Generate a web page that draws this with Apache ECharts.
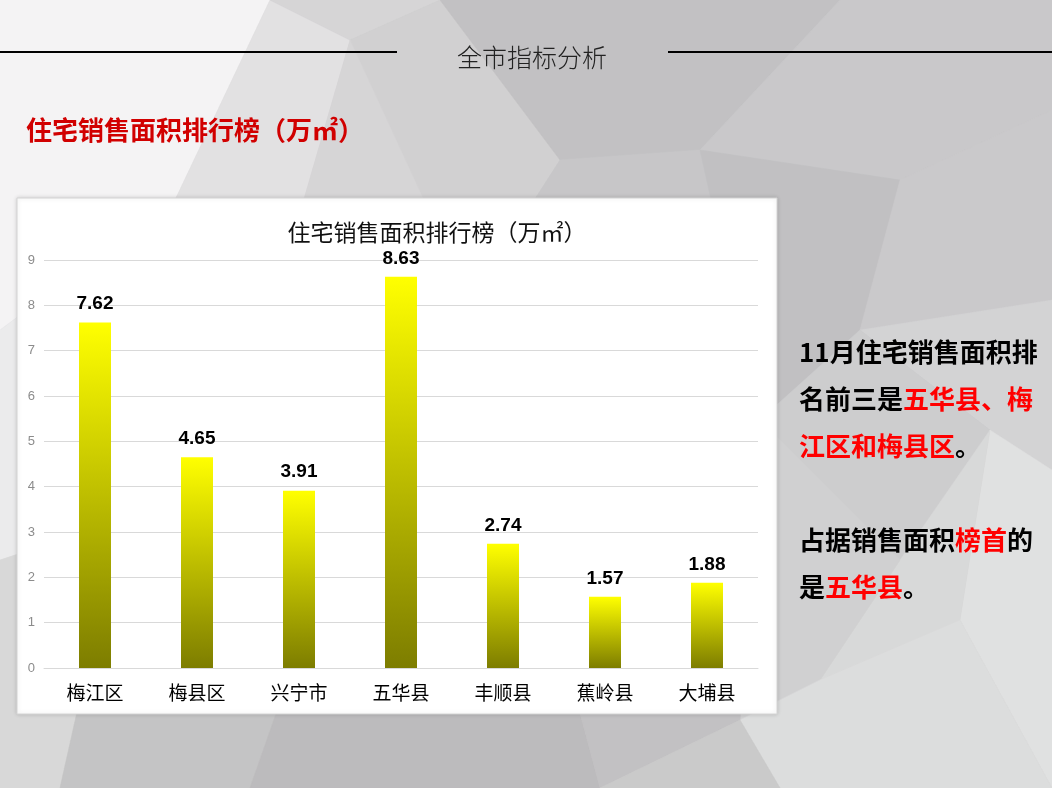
<!DOCTYPE html>
<html>
<head>
<meta charset="utf-8">
<script src="https://cdn.jsdelivr.net/npm/echarts@6/dist/echarts.min.js"></script>
<style>
html,body{margin:0;padding:0;width:1052px;height:788px;overflow:hidden;background:#d0d0d0;}
#main{width:1052px;height:788px;}
</style>
</head>
<body>
<div id="main"></div>
<script>
// ---- data ----
var categories = ['梅江区', '梅县区', '兴宁市', '五华县', '丰顺县', '蕉岭县', '大埔县'];
var areaValues = [7.62, 4.65, 3.91, 8.63, 2.74, 1.57, 1.88];
var yTicks = { min: 0, max: 9, interval: 1 };
var pageTitle = '全市指标分析';
var heading = '住宅销售面积排行榜（万㎡）';
var chartTitle = '住宅销售面积排行榜（万㎡）';

var chart = echarts.init(document.getElementById('main'), null, { renderer: 'canvas' });

var CJK = '"Noto Sans CJK SC", "Noto Sans", sans-serif';

// low-poly background facets (soft greys)
var facets = [
  { pts: [[0,0],[1052,0],[1052,788],[0,788]], c: '#c8c8c9' },
  { pts: [[0,0],[270,0],[175,200],[0,330]], c: '#f4f3f4' },
  { pts: [[0,330],[175,200],[120,520],[0,560]], c: '#ebebec' },
  { pts: [[175,200],[270,0],[350,40],[240,420]], c: '#e2e1e2' },
  { pts: [[270,0],[440,0],[350,40]], c: '#d6d5d6' },
  { pts: [[350,40],[440,0],[620,0],[560,160],[470,300]], c: '#d1d0d1' },
  { pts: [[240,420],[350,40],[470,300],[330,560]], c: '#d6d5d6' },
  { pts: [[440,0],[840,0],[700,150],[560,160]], c: '#c2c1c3' },
  { pts: [[560,160],[700,150],[760,420],[470,300]], c: '#c7c6c8' },
  { pts: [[840,0],[1052,0],[1052,110],[900,180],[700,150]], c: '#c9c8ca' },
  { pts: [[700,150],[900,180],[860,330],[760,420]], c: '#c1c0c2' },
  { pts: [[900,180],[1052,110],[1052,300],[860,330]], c: '#cac9cb' },
  { pts: [[860,330],[1052,300],[1052,470],[990,430]], c: '#d3d3d4' },
  { pts: [[760,420],[860,330],[990,430],[900,560]], c: '#cdcdce' },
  { pts: [[990,430],[1052,470],[1052,788],[960,620]], c: '#e0e1e1' },
  { pts: [[900,560],[990,430],[960,620],[820,680]], c: '#d8d9d9' },
  { pts: [[760,420],[900,560],[820,680],[740,720]], c: '#d0d0d1' },
  { pts: [[740,720],[820,680],[960,620],[1052,788],[780,788]], c: '#dcdddd' },
  { pts: [[0,560],[120,520],[60,788],[0,788]], c: '#d8d8d8' },
  { pts: [[120,520],[330,560],[250,788],[60,788]], c: '#c4c4c5' },
  { pts: [[330,560],[470,300],[600,788],[250,788]], c: '#bcbbbd' },
  { pts: [[470,300],[760,420],[740,720],[600,788]], c: '#c2c1c3' },
  { pts: [[600,788],[740,720],[780,788]], c: '#cacaca' }
];

var graphics = [];
facets.forEach(function (f) {
  graphics.push({
    type: 'polygon', z: -10, silent: true,
    shape: { points: f.pts },
    style: { fill: f.c, stroke: f.c, lineWidth: 0.5 }
  });
});

// header lines and title
graphics.push({ type: 'line', z: -5, shape: { x1: 0, y1: 52, x2: 397, y2: 52 }, style: { stroke: '#000', lineWidth: 2 } });
graphics.push({ type: 'line', z: -5, shape: { x1: 668, y1: 52, x2: 1052, y2: 52 }, style: { stroke: '#000', lineWidth: 2 } });
graphics.push({ type: 'text', z: -5, x: 532, y: 57, style: {
  text: pageTitle, fill: '#222', font: '300 25px ' + CJK, textAlign: 'center', textVerticalAlign: 'middle' } });

// red heading
graphics.push({ type: 'text', z: -5, x: 26, y: 130, style: {
  text: heading, fill: '#d10000', font: 'bold 26px ' + CJK, textAlign: 'left', textVerticalAlign: 'middle' } });

// white chart panel
graphics.push({ type: 'rect', z: -4, shape: { x: 17, y: 198, width: 760, height: 516 },
  style: { fill: '#ffffff', stroke: '#d4d4d4', lineWidth: 1, shadowBlur: 4, shadowColor: 'rgba(0,0,0,0.15)' } });

// chart title
graphics.push({ type: 'text', z: 5, x: 437, y: 232, style: {
  text: chartTitle, fill: '#111', font: '23px ' + CJK, textAlign: 'center', textVerticalAlign: 'middle' } });

// right commentary
graphics.push({ type: 'text', z: 5, x: 799, y: 329, style: {
  text: '{b|11月住宅销售面积排}\n{b|名前三是}{r|五华县、梅}\n{r|江区和梅县区}{b|。}\n{b| }\n{b|占据销售面积}{r|榜首}{b|的}\n{b|是}{r|五华县}{b|。}',
  textAlign: 'left', textVerticalAlign: 'top',
  rich: {
    b: { fill: '#000', font: 'bold 26px ' + CJK, lineHeight: 47 },
    r: { fill: '#ff0000', font: 'bold 26px ' + CJK, lineHeight: 47 }
  }
} });

chart.setOption({
  animation: false,
  backgroundColor: 'transparent',
  graphic: graphics,
  grid: { left: 44, right: 294, top: 260, bottom: 120, containLabel: false },
  xAxis: {
    type: 'category',
    data: categories,
    axisLine: { show: true, lineStyle: { color: '#d9d9d9', width: 1 } },
    axisTick: { show: false },
    axisLabel: { color: '#000', fontSize: 19, fontFamily: CJK, margin: 15 }
  },
  yAxis: {
    type: 'value',
    min: yTicks.min, max: yTicks.max, interval: yTicks.interval,
    axisLine: { show: false },
    axisTick: { show: false },
    splitLine: { lineStyle: { color: '#d9d9d9', width: 1 } },
    axisLabel: { color: '#8c8c8c', fontSize: 13, fontFamily: 'Arial, "Liberation Sans", sans-serif', margin: 9 }
  },
  series: [{
    type: 'bar',
    data: areaValues,
    barWidth: 32,
    itemStyle: {
      color: new echarts.graphic.LinearGradient(0, 0, 0, 1, [
        { offset: 0, color: '#ffff00' },
        { offset: 1, color: '#7d7d00' }
      ])
    },
    label: {
      show: true, position: 'top', distance: 9,
      color: '#000', fontSize: 19, fontWeight: 'bold',
      fontFamily: 'Arial, "Liberation Sans", sans-serif'
    }
  }]
});
</script>
</body>
</html>
